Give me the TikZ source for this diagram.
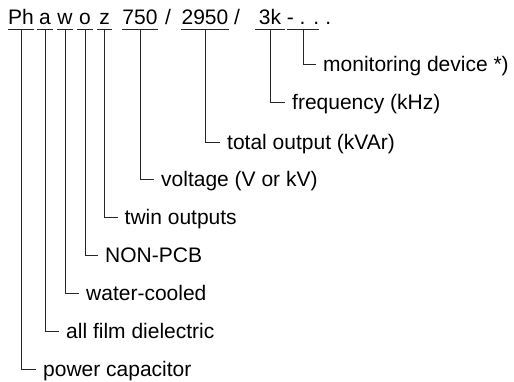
\documentclass[tikz,border=0pt]{standalone}
\usepackage{fontspec}
\setmainfont{Liberation Sans}
\usetikzlibrary{calc}
\tikzset{
  code/.style={anchor=south, inner xsep=0pt, inner ysep=4.5pt, text depth=0pt, font=\fontsize{21}{25}\selectfont},
  plain/.style={anchor=base, inner sep=0pt, font=\fontsize{21}{25}\selectfont},
  lab/.style={anchor=west, inner xsep=7pt, inner ysep=0pt, text height=15pt, text depth=0pt, font=\fontsize{21}{25}\selectfont},
  uline/.style={line width=0.9pt, draw=black!85},
  conn/.style={line width=0.9pt, draw=black!85},
}
\begin{document}
\begin{tikzpicture}[x=1pt,y=-1pt]
\useasboundingbox (0,0) rectangle (514,381);
% code pieces
\node[code, minimum width=24pt] (ph) at (21,29) {Ph};
\node[code, minimum width=16pt] (a) at (45,29) {a};
\node[code, minimum width=16pt] (w) at (65,29) {w};
\node[code, minimum width=16pt] (o) at (85,29) {o};
\node[code, minimum width=15pt] (z) at (104.5,29) {z};
\node[code, minimum width=35pt] (volt) at (140,29) {750};
\node[plain] (s1) at (168,24.5) {/};
\node[code, minimum width=47pt] (tot) at (205,29) {2950};
\node[plain] (s2) at (237,24.5) {/};
\node[code, minimum width=30pt] (freq) at (270,29) {3k};
\node[code, minimum width=30pt] (mon) at (303,29) {- . .};
\node[plain, anchor=base west] (dot) at (mon.south east |- 0,24.5) {\ .};
% underlines
\foreach \n in {ph,a,w,o,z,volt,tot,freq,mon}
  \draw[uline] (\n.south west) -- (\n.south east);
% labels
\node[lab] (lmon)  at ($(mon.south)+(13,35)$)  {monitoring device *)};
\node[lab] (lfreq) at ($(freq.south)+(15,73)$) {frequency (kHz)};
\node[lab] (ltot)  at ($(tot.south)+(15,113)$) {total output (kVAr)};
\node[lab] (lvolt) at ($(volt.south)+(14,150)$) {voltage (V or kV)};
\node[lab] (lz)    at ($(z.south)+(13,188)$)   {twin outputs};
\node[lab] (lo)    at ($(o.south)+(13,226)$)   {NON-PCB};
\node[lab] (lw)    at ($(w.south)+(14,264)$)   {water-cooled};
\node[lab] (la)    at ($(a.south)+(14,302)$)   {all film dielectric};
\node[lab] (lph)   at ($(ph.south)+(15,340)$)  {power capacitor};
% connectors
\draw[conn] (mon.south) |- (lmon.west);
\draw[conn] (freq.south) |- (lfreq.west);
\draw[conn] (tot.south) |- (ltot.west);
\draw[conn] (volt.south) |- (lvolt.west);
\draw[conn] (z.south) |- (lz.west);
\draw[conn] (o.south) |- (lo.west);
\draw[conn] (w.south) |- (lw.west);
\draw[conn] (a.south) |- (la.west);
\draw[conn] (ph.south) |- (lph.west);
\end{tikzpicture}
\end{document}
